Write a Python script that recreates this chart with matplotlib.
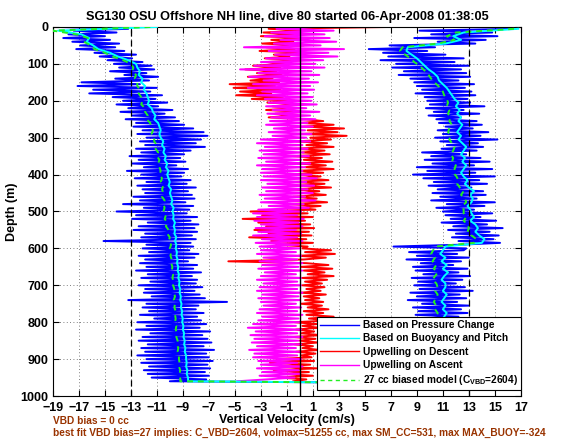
import numpy as np
import matplotlib
matplotlib.use("Agg")
import matplotlib.pyplot as plt

plt.rcParams['font.family'] = ['Liberation Sans', 'DejaVu Sans']
plt.rcParams['font.weight'] = 'bold'
plt.rcParams['mathtext.fontset'] = 'custom'
plt.rcParams['mathtext.rm'] = 'Liberation Sans:bold'
plt.rcParams['mathtext.bf'] = 'Liberation Sans:bold'

# ---------------- data ----------------
depth_fine = np.arange(0, 961, 5)      # 5 m samples
depth_coarse = np.arange(0, 961, 10)   # 10 m samples

w_press_desc = [
    -18.6, -13.2, -17.4, -14.1, -17.8, -15.0, -18.2, -14.6, -17.5, -13.9,
    -16.9, -14.2, -17.2, -13.5, -15.8, -12.6, -15.4, -12.9, -14.8, -12.1,
    -14.3, -11.4, -13.9, -11.2, -14.6, -11.8, -13.5, -10.9, -14.2, -11.6,
    -16.8, -12.3, -17.1, -11.0, -15.9, -11.5, -16.2, -10.6, -14.4, -11.1,
    -13.6, -10.2, -14.1, -10.9, -13.2, -9.8, -13.8, -10.4, -12.9, -9.6,
    -13.4, -9.3, -12.6, -8.9, -12.8, -8.2, -12.1, -7.4, -12.5, -7.1,
    -11.8, -7.6, -12.3, -8.0, -11.9, -7.3, -12.6, -8.4, -12.2, -8.9,
    -13.1, -9.2, -12.4, -8.8, -12.9, -9.5, -12.0, -8.6, -13.3, -8.9,
    -12.2, -9.1, -12.7, -8.4, -11.8, -8.7, -12.5, -8.0, -12.1, -8.6,
    -11.9, -8.3, -12.8, -8.1, -12.3, -8.8, -13.6, -8.2, -12.0, -8.5,
    -14.1, -8.7, -12.6, -7.9, -12.9, -8.4, -11.7, -7.8, -12.4, -8.1,
    -12.8, -7.9, -11.9, -8.3, -12.2, -8.0, -15.1, -8.4, -11.8, -8.2,
    -12.1, -8.5, -11.6, -7.8, -12.4, -8.1, -11.9, -8.6, -12.3, -7.9,
    -11.8, -8.2, -12.6, -7.6, -11.7, -8.3, -12.2, -7.9, -11.5, -8.0,
    -12.4, -7.5, -11.9, -8.1, -12.0, -7.7, -11.4, -7.3, -13.2, -5.6,
    -11.8, -7.8, -12.1, -8.0, -11.6, -7.4, -12.3, -7.9, -11.2, -7.6,
    -12.5, -7.2, -11.8, -7.7, -12.6, -6.9, -11.5, -7.5, -12.1, -7.1,
    -12.4, -6.8, -11.7, -7.4, -12.2, -6.6, -11.9, -7.2, -12.5, -7.0,
    -11.8, -6.7, -12.2, -7.1, -11.6, -6.9, -12.0, -7.3, -11.7, -7.0,
    -11.4, -7.2, -10.0,
]

w_press_asc = [
    16.6, 9.2, 14.8, 10.1, 15.2, 8.8, 14.3, 10.6, 13.5, 6.9,
    10.4, 5.3, 9.8, 6.4, 11.2, 6.8, 12.6, 6.2, 11.9, 7.4,
    13.0, 7.1, 12.4, 8.0, 12.8, 7.6, 13.1, 8.5, 12.2, 8.8,
    13.4, 9.0, 12.7, 9.4, 13.2, 8.9, 13.5, 9.6, 12.9, 9.8,
    13.1, 10.0, 14.2, 9.7, 12.6, 10.3, 13.8, 9.9, 12.4, 10.5,
    13.6, 10.7, 14.0, 11.2, 13.3, 10.6, 14.5, 11.0, 13.9, 10.4,
    15.2, 10.8, 13.7, 11.3, 14.1, 10.9, 13.6, 9.4, 12.8, 10.1,
    13.9, 9.6, 14.6, 10.2, 13.4, 9.0, 14.8, 9.8, 13.5, 8.7,
    15.0, 9.5, 13.8, 10.3, 14.4, 9.9, 13.2, 10.6, 14.1, 10.2,
    14.3, 10.8, 13.6, 10.1, 15.0, 11.3, 14.2, 10.5, 13.4, 11.0,
    14.8, 11.2, 13.9, 11.6, 15.1, 10.9, 14.4, 11.8, 15.6, 11.4,
    14.6, 12.0, 15.3, 11.7, 14.9, 12.2, 15.4, 12.3, 7.2, 12.8,
    12.6, 8.4, 12.1, 9.0, 13.0, 8.2, 12.4, 9.3, 11.8, 8.7,
    12.9, 8.9, 12.2, 9.5, 13.1, 8.6, 12.5, 9.1, 12.0, 8.8,
    12.7, 9.2, 13.3, 8.5, 12.3, 9.0, 12.8, 8.3, 12.1, 9.4,
    13.0, 8.7, 12.4, 9.1, 12.9, 8.9, 12.2, 9.3, 12.6, 8.6,
    12.8, 9.0, 12.3, 8.8, 13.1, 9.2, 12.5, 8.7, 12.9, 9.4,
    12.4, 8.9, 13.0, 9.3, 12.6, 8.8, 12.2, 9.1, 12.7, 9.0,
    12.5, 9.2, 12.9, 8.9, 12.3, 9.4, 12.8, 9.0, 12.4, 9.3,
    11.9, 9.6, 10.5,
]

w_buoy_desc = [
    -11.0, -18.6, -16.8, -16.2, -16.4, -15.9, -15.5, -14.6, -14.0, -13.2,
    -12.6, -12.5, -12.3, -12.4, -12.1, -12.2, -11.9, -12.0, -11.8, -11.7,
    -11.6, -11.7, -11.4, -11.3, -11.1, -11.2, -10.9, -10.8, -10.7, -10.8,
    -10.7, -10.5, -10.6, -10.4, -10.5, -10.3, -10.4, -10.2, -10.3, -10.1,
    -10.2, -10.1, -10.0, -10.1, -9.9, -10.0, -9.9, -9.8, -9.9, -9.7,
    -9.8, -9.7, -9.75, -9.6, -9.7, -9.6, -9.65, -9.5, -9.6, -9.5,
    -9.55, -9.45, -9.5, -9.4, -9.45, -9.35, -9.4, -9.3, -9.35, -9.25,
    -9.3, -9.2, -9.25, -9.15, -9.2, -9.1, -9.15, -9.05, -9.1, -9.0,
    -9.05, -8.95, -9.0, -8.9, -8.95, -8.85, -8.9, -8.8, -8.85, -8.75,
    -8.75, -8.7, -8.75, -8.65, -8.7, -8.6, -8.6,
]

w_buoy_asc = [
    16.8, 12.6, 11.8, 12.4, 11.2, 8.3, 8.2, 8.6, 9.0, 9.3,
    9.6, 9.9, 10.3, 10.6, 10.7, 11.0, 11.3, 11.5, 11.7, 11.9,
    12.2, 12.0, 12.3, 12.1, 12.4, 12.2, 12.5, 12.3, 12.1, 12.4,
    12.2, 12.5, 12.8, 12.6, 12.4, 12.7, 12.5, 12.8, 12.6, 12.4,
    12.6, 12.9, 12.7, 13.0, 13.4, 13.1, 13.3, 13.2, 12.9, 13.1,
    13.2, 13.4, 13.1, 13.5, 13.7, 13.5, 13.8, 14.2, 14.0, 11.2,
    11.0, 10.8, 11.2, 10.9, 11.3, 11.0, 11.4, 11.1, 10.9, 11.2,
    11.2, 11.0, 11.3, 11.1, 10.9, 11.2, 11.0, 11.3, 11.1, 10.9,
    11.0, 11.2, 10.9, 11.1, 11.0, 10.8, 11.1, 10.9, 11.0, 10.8,
    10.9, 11.0, 10.8, 10.9, 10.7, 10.9, 10.8,
]

w_model_desc = [
    -11.5, -19.0, -17.2, -16.3, -16.6, -16.1, -15.8, -15.0, -14.4, -13.6,
    -13.0, -12.8, -12.9, -12.6, -12.7, -12.5, -12.5, -12.3, -12.4, -12.2,
    -12.1, -12.2, -11.9, -11.9, -11.7, -11.8, -11.5, -11.5, -11.3, -11.4,
    -11.2, -11.2, -11.0, -11.1, -10.9, -11.0, -10.8, -10.9, -10.8, -10.7,
    -10.8, -10.6, -10.7, -10.5, -10.6, -10.5, -10.6, -10.4, -10.5, -10.4,
    -10.5, -10.3, -10.4, -10.2, -10.3, -10.1, -10.2, -10.0, -10.1, -9.9,
    -10.0, -9.9, -9.95, -9.85, -9.9, -9.8, -9.85, -9.75, -9.8, -9.7,
    -9.75, -9.65, -9.7, -9.6, -9.7, -9.6, -9.65, -9.55, -9.6, -9.55,
    -9.6, -9.5, -9.55, -9.45, -9.5, -9.4, -9.45, -9.35, -9.4, -9.3,
    -9.3, -9.25, -9.3, -9.2, -9.25, -9.2, -9.2,
]

w_model_asc = [
    16.5, 12.0, 11.3, 11.9, 10.6, 7.9, 7.7, 8.1, 8.5, 8.8,
    9.2, 9.5, 9.8, 10.0, 10.2, 10.5, 10.8, 11.0, 11.1, 11.3,
    11.4, 11.3, 11.5, 11.4, 11.6, 11.5, 11.7, 11.5, 11.4, 11.6,
    11.5, 11.7, 11.9, 11.8, 11.6, 11.8, 11.7, 12.0, 11.9, 11.8,
    12.05, 12.2, 12.1, 12.3, 12.6, 12.4, 12.7, 12.8, 12.5, 12.6,
    12.6, 12.8, 12.6, 12.9, 13.0, 12.9, 13.2, 13.6, 13.4, 10.4,
    10.25, 10.1, 10.4, 10.2, 10.5, 10.3, 10.6, 10.4, 10.2, 10.5,
    10.6, 10.4, 10.6, 10.5, 10.3, 10.5, 10.4, 10.6, 10.5, 10.3,
    10.4, 10.5, 10.3, 10.4, 10.3, 10.2, 10.4, 10.3, 10.35, 10.2,
    10.3, 10.35, 10.2, 10.3, 10.15, 10.3, 10.2,
]

upwell_desc = [
    7.0, -2.4, 0.6, -2.8, -0.2, -3.0, 0.4, -2.2, -0.5, -2.9,
    0.3, -2.6, -0.4, -3.1, 0.5, -2.0, -0.8, -2.7, 0.2, -2.5,
    -1.2, -3.6, -1.5, -4.2, -1.8, -3.3, -1.4, -4.0, -2.1, -3.8,
    -1.6, -5.4, -1.9, -5.1, -1.5, -4.6, -2.2, -4.9, -1.3, -3.7,
    -0.4, -2.5, 0.2, -2.1, -0.3, -2.6, 0.1, -1.9, -0.6, -2.4,
    0.4, 1.8, 0.1, 2.6, 0.3, 3.4, 0.6, 2.9, 0.2, 3.6,
    0.8, 2.4, -0.3, 2.1, 0.5, 2.6, -0.4, 1.9, 0.2, 2.3,
    -0.5, 1.7, 0.3, 2.5, -0.2, 2.0, 0.4, 2.6, -0.3, 1.8,
    -0.6, 1.6, 0.2, 2.2, -0.4, 1.9, 0.1, 2.4, -0.7, 1.5,
    0.3, 2.0, -0.5, 1.3, 0.2, 2.1, -0.8, 1.6, -0.1, 1.2,
    -3.8, 0.6, -2.9, 1.0, -4.4, 0.4, -3.2, 0.8, -2.6, 1.1,
    -3.5, 0.7, -2.4, 0.9, -3.9, 0.5, -2.2, 1.0, -1.8, 0.6,
    0.2, 2.4, 0.4, 2.7, -0.1, 2.0, 0.3, -5.5, 0.5, 2.2,
    0.1, 2.5, 0.3, 1.9, 0.6, 2.6, 0.2, 2.1, 0.4, 1.7,
    0.2, 1.9, 0.5, 1.6, 0.1, 2.0, 0.3, 1.5, 0.4, 1.8,
    0.1, 1.7, 0.6, 2.2, 0.3, 1.8, 0.5, 2.6, 0.7, 2.4,
    -0.4, 1.3, 0.2, 1.5, -0.3, 1.1, 0.1, 1.6, -0.5, 1.2,
    0.0, 1.4, -0.4, 1.0, 0.2, 1.5, -0.3, 1.2, 0.1, 0.9,
    -1.8, 1.1, -2.3, 0.8, -1.5, 1.3, -2.0, 0.7, -1.2, 1.0,
    -1.6, 0.5, -0.5,
]

upwell_asc = [
    1.5, -1.8, 2.6, -2.2, 1.9, -2.7, 2.3, -1.5, 2.8, -2.0,
    1.6, -4.3, 3.4, -2.4, 2.2, -1.9, 2.9, -2.6, 1.8, -3.0,
    1.2, -3.5, 1.9, -4.6, 0.9, -3.2, 1.5, -3.9, 0.7, -2.8,
    1.4, -3.6, 0.8, -4.0, 1.1, -2.9, 0.6, -3.3, 1.0, -2.7,
    0.9, -2.4, 1.3, -2.6, 0.5, -2.1, 1.5, -2.5, 0.8, -2.2,
    1.2, -2.3, 0.6, -2.6, 1.0, -2.0, 0.4, -2.4, 0.9, -2.1,
    0.5, -3.0, 0.8, -3.3, 0.2, -2.7, 0.6, -3.1, 0.3, -2.8,
    0.7, -3.2, 0.1, -2.6, 0.8, -3.3, 0.4, -2.9, 0.2, -3.0,
    0.9, -2.8, 1.3, -3.0, 0.5, -2.5, 1.1, -2.9, 0.6, -2.6,
    1.0, -3.1, 0.4, -2.7, 1.2, -3.0, 0.3, -2.4, 0.7, -3.2,
    0.1, -3.6, -0.2, -3.3, 0.3, -3.5, -0.1, -3.0, 0.2, -3.4,
    -0.3, -3.2, 0.1, -3.6, -0.2, -2.9, 0.2, -3.4, -0.1, -3.1,
    0.0, -3.0, -0.3, -3.3, 0.1, -2.8, -0.2, -3.1, 0.2, -2.9,
    -0.1, -3.2, 0.2, -2.7, -0.3, -3.0, 0.1, -3.3, -0.2, -2.8,
    0.1, -3.1, -0.2, -3.3, 0.2, -2.9, -0.1, -3.2, 0.0, -3.0,
    -0.3, -2.8, 0.1, -3.1, -0.2, -3.3, 0.2, -2.9, -0.1, -3.2,
    0.0, -3.6, -0.3, -4.0, 0.1, -3.4, -0.2, -3.8, 0.2, -3.5,
    -0.1, -3.7, 0.1, -3.3, -0.3, -3.9, 0.0, -3.5, -0.2, -3.6,
    0.1, -3.2, -0.2, -3.0, 0.2, -3.3, -0.1, -2.9, 0.0, -3.1,
    -0.4, -2.6, -4.8,
]

title = "SG130 OSU Offshore NH line, dive 80 started 06-Apr-2008 01:38:05"
xticks = list(range(-19, 18, 2))
yticks = list(range(0, 1001, 100))
note1 = "VBD bias = 0 cc"
note2 = ("best fit VBD bias=27 implies: C_VBD=2604, volmax=51255 cc, "
         "max SM_CC=531, max MAX_BUOY=-324")

# ---------------- plot ----------------
fig = plt.figure(figsize=(5.68, 4.42), dpi=100)
ax = fig.add_axes([0.093, 0.104, 0.824, 0.835])

dfull = np.concatenate([depth_fine, depth_fine[::-1] + 5])
cfull = np.concatenate([depth_coarse, depth_coarse[::-1] + 5])

ax.plot(np.concatenate([w_press_desc, w_press_asc[::-1]]), dfull,
        color='#0000ff', lw=1.4, label='Based on Pressure Change', zorder=2)
ax.plot(np.concatenate([w_buoy_desc, w_buoy_asc[::-1]]), cfull,
        color='#00ffff', lw=1.4, label='Based on Buoyancy and Pitch', zorder=3)
ax.plot(upwell_desc, depth_fine, color='#ff0000', lw=1.4,
        label='Upwelling on Descent', zorder=2)
ax.plot(upwell_asc, depth_fine, color='#ff00ff', lw=1.4,
        label='Upwelling on Ascent', zorder=2)
ax.plot(np.concatenate([w_model_desc, w_model_asc[::-1]]), cfull,
        color='#22ee22', lw=1.4, ls=(0, (3, 2.5)),
        label='27 cc biased model (C$_{\\rm VBD}$=2604)', zorder=4)

ax.axvline(0, color='black', lw=1.0, zorder=5)
ax.axvline(-13, color='black', lw=0.9, ls=(0, (5, 3)), zorder=5)
ax.axvline(13, color='black', lw=0.9, ls=(0, (5, 3)), zorder=5)

ax.set_xlim(-19, 17)
ax.set_ylim(1000, 0)
ax.set_xticks(xticks)
ax.set_yticks(yticks)
ax.set_xticklabels([str(t).replace('-', '\u2212') for t in xticks])
ax.tick_params(direction='in', top=True, right=True, labelsize=9,
               length=4, width=0.8)
ax.tick_params(axis='x', pad=4)
ax.tick_params(axis='y', pad=3)
for lab in ax.get_xticklabels() + ax.get_yticklabels():
    lab.set_fontweight('bold')
ax.grid(True, ls=(0, (1, 3)), color='#555555', lw=0.6)
for s in ax.spines.values():
    s.set_linewidth(0.8)

ax.set_title(title, fontsize=9.2, fontweight='bold', pad=5)
ax.set_xlabel('Vertical Velocity (cm/s)', fontsize=9, fontweight='bold', labelpad=0)
ax.set_ylabel('Depth (m)', fontsize=9, fontweight='bold', labelpad=2)

leg = ax.legend(loc='lower right', bbox_to_anchor=(1.0, 0.015), borderaxespad=0,
                fontsize=7.3, frameon=True, fancybox=False, framealpha=1,
                edgecolor='black', handlelength=3.8, labelspacing=0.33,
                borderpad=0.3, handletextpad=0.4)
leg.get_frame().set_linewidth(0.8)
leg.set_zorder(10)
for t in leg.get_texts():
    t.set_fontweight('bold')
for ln in leg.get_lines():
    ln.set_linewidth(1.0)

brown = '#993300'
fig.text(0.093, 0.040, note1, color=brown, fontsize=7.3, fontweight='bold')
fig.text(0.093, 0.013, note2, color=brown, fontsize=7.3, fontweight='bold')

fig.savefig('out.png', dpi=100)
